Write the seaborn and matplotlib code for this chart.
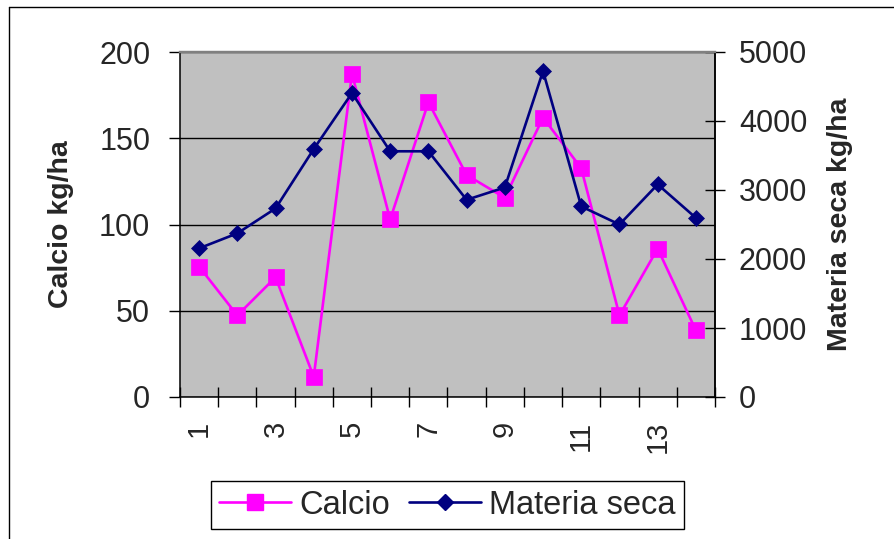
import matplotlib
matplotlib.use("Agg")
import matplotlib.pyplot as plt
from matplotlib.lines import Line2D
import numpy as np
import pandas as pd
import seaborn as sns

# Datos por muestra
muestras = list(range(1, 15))
calcio = [75.6, 47.3, 69.4, 11.7, 187.4, 102.9, 170.9, 128.7, 115.5, 162.0, 132.6, 47.3, 86.0, 38.6]
materia_seca = [2155, 2372, 2733, 3594, 4405, 3561, 3561, 2858, 3037, 4724, 2762, 2500, 3081, 2596]
etiquetas_x = ["1", "3", "5", "7", "9", "11", "13"]
ticks_calcio = [0, 50, 100, 150, 200]
ticks_materia = [0, 1000, 2000, 3000, 4000, 5000]

COLOR_CA = "#FF00FF"
COLOR_MS = "#000080"

sns.set_style("white")
plt.rcParams["font.family"] = ["Liberation Sans", "DejaVu Sans"]

W, H = 895, 539
fig = plt.figure(figsize=(W / 100, H / 100), dpi=100)
ax1 = fig.add_axes([180 / W, 1 - 397 / H, 535 / W, 345 / H])
ax1.set_facecolor("#C0C0C0")

df = pd.DataFrame({"muestra": muestras, "calcio": calcio, "materia": materia_seca})
df["pos"] = np.arange(len(df))

sns.lineplot(data=df, x="pos", y="calcio", ax=ax1, color=COLOR_CA, marker="s",
             markersize=11.5, markeredgewidth=0.5, markeredgecolor=COLOR_CA,
             linewidth=1.9, legend=False, zorder=3)

ax2 = ax1.twinx()
sns.lineplot(data=df, x="pos", y="materia", ax=ax2, color=COLOR_MS, marker="D",
             markersize=8.5, markeredgewidth=0.5, markeredgecolor=COLOR_MS,
             linewidth=1.9, legend=False, zorder=3)

# Eje X: marcas entre categorías, etiquetas en las muestras impares
ax1.set_xlim(-0.5, len(muestras) - 0.5)
ax1.set_xticks(np.arange(-0.5, len(muestras), 1))
ax1.set_xticklabels([])
ax1.set_xticks(df["pos"].values[::2], minor=True)
ax1.set_xticklabels(etiquetas_x, minor=True, rotation=90, fontsize=21,
                    family=["Liberation Sans Narrow", "Liberation Sans", "DejaVu Sans"])
ax1.tick_params(axis="x", which="major", direction="inout", length=13.7, width=1.0,
                color="black", bottom=True)
ax1.tick_params(axis="x", which="minor", length=0, pad=17, bottom=True)
ax1.set_xlabel("")

# Eje izquierdo: calcio
ax1.set_ylim(0, 200)
ax1.set_yticks(ticks_calcio)
ax1.tick_params(axis="y", direction="out", length=8, width=1.0, pad=13.5,
                labelsize=22, left=True, color="black")
ax1.yaxis.grid(True, color="black", linewidth=1.0)
ax1.set_axisbelow(True)
ax1.set_ylabel("Calcio kg/ha", fontsize=20.5, fontweight="bold", va="center")
ax1.yaxis.set_label_coords((60.5 - 180) / 535, 0.5)

# Eje derecho: materia seca
ax2.set_ylim(0, 5000)
ax2.set_yticks(ticks_materia)
ax2.tick_params(axis="y", direction="inout", length=14.4, width=1.0, pad=10,
                labelsize=22, right=True, color="black")
ax2.set_ylabel("Materia seca kg/ha", fontsize=20.5, fontweight="bold",
               va="center", rotation=90)
ax2.yaxis.set_label_coords((840 - 180) / 535, 0.5)

for ax in (ax1, ax2):
    for side in ("left", "right", "bottom"):
        ax.spines[side].set_color("black")
        ax.spines[side].set_linewidth(1.1)
    ax.spines["top"].set_color("#808080")
    ax.spines["top"].set_linewidth(1.6)
ax2.spines["left"].set_visible(False)
ax2.spines["bottom"].set_visible(False)

# Marco exterior
fig.add_artist(Line2D([8.5 / W, 8.5 / W], [0, 1 - 6.5 / H], color="black",
                      lw=1.0, transform=fig.transFigure))
fig.add_artist(Line2D([8.5 / W, 1], [1 - 6.5 / H, 1 - 6.5 / H], color="black",
                      lw=1.0, transform=fig.transFigure))

# Leyenda
handles = [
    Line2D([], [], color=COLOR_CA, marker="s", markersize=11.5, linewidth=1.9,
           markeredgecolor=COLOR_CA),
    Line2D([], [], color=COLOR_MS, marker="D", markersize=8.5, linewidth=1.9,
           markeredgecolor=COLOR_MS),
]
leg = fig.legend(handles, ["Calcio", "Materia seca"], loc="center",
                 bbox_to_anchor=(447.5 / W, 1 - 505 / H), ncol=2, frameon=True,
                 fancybox=False, edgecolor="black", framealpha=1, fontsize=23.5,
                 handlelength=2.2, handletextpad=0.25, columnspacing=0.6,
                 borderpad=0.25)
leg.get_frame().set_linewidth(1.0)

fig.savefig("out.png", dpi=100)
